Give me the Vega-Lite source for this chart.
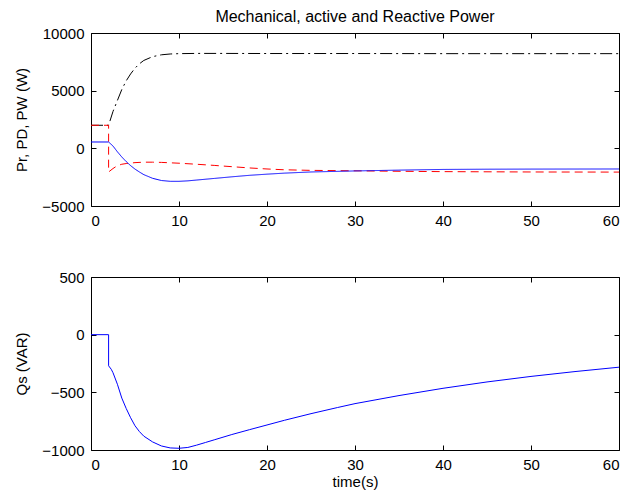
{
  "$schema": "https://vega.github.io/schema/vega-lite/v6.json",
  "padding": {"left": 14, "top": 8, "right": 10, "bottom": 0},
  "spacing": 40,
  "config": {
    "font": "Liberation Sans",
    "view": {"stroke": "black", "strokeWidth": 1},
    "axis": {"domain": false, "grid": false, "ticks": true, "tickSize": -5, "tickColor": "black", "tickWidth": 1,
      "labelFont": "Liberation Sans", "labelFontSize": 15, "labelColor": "black", "labelPadding": 12,
      "titleFont": "Liberation Sans", "titleFontSize": 15, "titleFontWeight": "normal", "titleColor": "black"}
  },
  "datasets": {
    "p": [
      {"s": "W", "i": 0, "t": 0, "v": 2000}, {"s": "W", "i": 1, "t": 2, "v": 2000}, {"s": "W", "i": 2, "t": 2.5, "v": 3200},
      {"s": "W", "i": 3, "t": 3, "v": 4150}, {"s": "W", "i": 4, "t": 3.5, "v": 5100}, {"s": "W", "i": 5, "t": 4, "v": 5850},
      {"s": "W", "i": 6, "t": 4.5, "v": 6450}, {"s": "W", "i": 7, "t": 5, "v": 6950}, {"s": "W", "i": 8, "t": 5.5, "v": 7330},
      {"s": "W", "i": 9, "t": 6, "v": 7620}, {"s": "W", "i": 10, "t": 7, "v": 7950}, {"s": "W", "i": 11, "t": 8, "v": 8110},
      {"s": "W", "i": 12, "t": 9, "v": 8180}, {"s": "W", "i": 13, "t": 10, "v": 8210}, {"s": "W", "i": 14, "t": 12, "v": 8230},
      {"s": "W", "i": 15, "t": 15, "v": 8230}, {"s": "W", "i": 16, "t": 20, "v": 8220}, {"s": "W", "i": 17, "t": 30, "v": 8220},
      {"s": "W", "i": 18, "t": 40, "v": 8210}, {"s": "W", "i": 19, "t": 50, "v": 8210}, {"s": "W", "i": 20, "t": 60, "v": 8210},
      {"s": "D", "i": 0, "t": 0, "v": 2000}, {"s": "D", "i": 1, "t": 2, "v": 2000}, {"s": "D", "i": 2, "t": 2, "v": -2050},
      {"s": "D", "i": 3, "t": 2.5, "v": -1750}, {"s": "D", "i": 4, "t": 3, "v": -1500}, {"s": "D", "i": 5, "t": 3.5, "v": -1380},
      {"s": "D", "i": 6, "t": 4, "v": -1320}, {"s": "D", "i": 7, "t": 5, "v": -1240}, {"s": "D", "i": 8, "t": 6, "v": -1200},
      {"s": "D", "i": 9, "t": 7, "v": -1200}, {"s": "D", "i": 10, "t": 8, "v": -1220}, {"s": "D", "i": 11, "t": 10, "v": -1290},
      {"s": "D", "i": 12, "t": 12, "v": -1380}, {"s": "D", "i": 13, "t": 14, "v": -1480}, {"s": "D", "i": 14, "t": 16, "v": -1590},
      {"s": "D", "i": 15, "t": 18, "v": -1700}, {"s": "D", "i": 16, "t": 20, "v": -1790}, {"s": "D", "i": 17, "t": 22, "v": -1860},
      {"s": "D", "i": 18, "t": 25, "v": -1910}, {"s": "D", "i": 19, "t": 30, "v": -1950}, {"s": "D", "i": 20, "t": 35, "v": -1990},
      {"s": "D", "i": 21, "t": 40, "v": -2020}, {"s": "D", "i": 22, "t": 50, "v": -2050}, {"s": "D", "i": 23, "t": 60, "v": -2060},
      {"s": "r", "i": 0, "t": 0, "v": 550}, {"s": "r", "i": 1, "t": 2, "v": 550}, {"s": "r", "i": 2, "t": 2.5, "v": 200},
      {"s": "r", "i": 3, "t": 3, "v": -300}, {"s": "r", "i": 4, "t": 3.5, "v": -750}, {"s": "r", "i": 5, "t": 4, "v": -1150},
      {"s": "r", "i": 6, "t": 4.5, "v": -1500}, {"s": "r", "i": 7, "t": 5, "v": -1800}, {"s": "r", "i": 8, "t": 5.5, "v": -2050},
      {"s": "r", "i": 9, "t": 6, "v": -2280}, {"s": "r", "i": 10, "t": 7, "v": -2600}, {"s": "r", "i": 11, "t": 8, "v": -2790},
      {"s": "r", "i": 12, "t": 9, "v": -2860}, {"s": "r", "i": 13, "t": 10, "v": -2860}, {"s": "r", "i": 14, "t": 11, "v": -2820},
      {"s": "r", "i": 15, "t": 12, "v": -2750}, {"s": "r", "i": 16, "t": 14, "v": -2610}, {"s": "r", "i": 17, "t": 16, "v": -2470},
      {"s": "r", "i": 18, "t": 18, "v": -2340}, {"s": "r", "i": 19, "t": 20, "v": -2240}, {"s": "r", "i": 20, "t": 22, "v": -2150},
      {"s": "r", "i": 21, "t": 25, "v": -2050}, {"s": "r", "i": 22, "t": 30, "v": -1960}, {"s": "r", "i": 23, "t": 35, "v": -1890},
      {"s": "r", "i": 24, "t": 40, "v": -1830}, {"s": "r", "i": 25, "t": 45, "v": -1810}, {"s": "r", "i": 26, "t": 50, "v": -1800},
      {"s": "r", "i": 27, "t": 55, "v": -1795}, {"s": "r", "i": 28, "t": 60, "v": -1790}
    ],
    "q": [
      {"i": 0, "t": 0, "v": 0}, {"i": 1, "t": 2, "v": 0}, {"i": 2, "t": 2, "v": -270}, {"i": 3, "t": 2.3, "v": -300},
      {"i": 4, "t": 2.5, "v": -330}, {"i": 5, "t": 3, "v": -430}, {"i": 6, "t": 3.5, "v": -550}, {"i": 7, "t": 4, "v": -640},
      {"i": 8, "t": 4.5, "v": -720}, {"i": 9, "t": 5, "v": -790}, {"i": 10, "t": 5.5, "v": -840}, {"i": 11, "t": 6, "v": -880},
      {"i": 12, "t": 7, "v": -930}, {"i": 13, "t": 8, "v": -965}, {"i": 14, "t": 9, "v": -982}, {"i": 15, "t": 10, "v": -985},
      {"i": 16, "t": 11, "v": -978}, {"i": 17, "t": 12, "v": -958}, {"i": 18, "t": 13, "v": -935}, {"i": 19, "t": 14, "v": -912},
      {"i": 20, "t": 16, "v": -866}, {"i": 21, "t": 18, "v": -824}, {"i": 22, "t": 20, "v": -783}, {"i": 23, "t": 22, "v": -742},
      {"i": 24, "t": 25, "v": -685}, {"i": 25, "t": 28, "v": -632}, {"i": 26, "t": 30, "v": -598}, {"i": 27, "t": 35, "v": -528},
      {"i": 28, "t": 40, "v": -465}, {"i": 29, "t": 45, "v": -410}, {"i": 30, "t": 50, "v": -362}, {"i": 31, "t": 55, "v": -320},
      {"i": 32, "t": 60, "v": -282}
    ]
  },
  "vconcat": [
    {
      "width": 528, "height": 173,
      "title": {"text": "Mechanical, active and Reactive Power", "font": "Liberation Sans", "fontSize": 16, "fontWeight": "normal", "color": "black", "anchor": "middle", "frame": "group", "offset": 1},
      "data": {"name": "p"},
      "layer": [
        {
          "mark": {"type": "line", "strokeWidth": 1, "clip": true},
          "encoding": {
            "x": {"field": "t", "type": "quantitative", "scale": {"domain": [0, 60], "nice": false, "zero": false},
              "axis": {"values": [0, 10, 20, 30, 40, 50, 60], "title": null}},
            "y": {"field": "v", "type": "quantitative", "scale": {"domain": [-5000, 10000], "nice": false, "zero": false},
              "axis": {"values": [-5000, 0, 5000, 10000], "format": "d", "title": "Pr, PD, PW (W)", "titlePadding": 12}},
            "color": {"field": "s", "type": "nominal", "scale": {"domain": ["W", "D", "r"], "range": ["#000000", "#ff0000", "#0000ff"]}, "legend": null},
            "strokeDash": {"field": "s", "type": "nominal", "scale": {"domain": ["W", "D", "r"], "range": [[12, 4, 2, 4], [8, 5], [1, 0]]}, "legend": null},
            "order": {"field": "i", "type": "quantitative"}
          }
        },
        {
          "mark": {"type": "line", "opacity": 0},
          "encoding": {
            "x": {"field": "t", "type": "quantitative", "axis": {"orient": "top", "values": [0, 10, 20, 30, 40, 50, 60], "labels": false, "title": null}},
            "y": {"field": "v", "type": "quantitative", "axis": {"orient": "right", "values": [-5000, 0, 5000, 10000], "labels": false, "title": null}},
            "detail": {"field": "s"},
            "order": {"field": "i", "type": "quantitative"}
          }
        }
      ],
      "resolve": {"axis": {"x": "independent", "y": "independent"}}
    },
    {
      "width": 528, "height": 173,
      "data": {"name": "q"},
      "layer": [
        {
          "mark": {"type": "line", "strokeWidth": 1, "color": "#0000ff", "clip": true},
          "encoding": {
            "x": {"field": "t", "type": "quantitative", "scale": {"domain": [0, 60], "nice": false, "zero": false},
              "axis": {"values": [0, 10, 20, 30, 40, 50, 60], "title": "time(s)", "titlePadding": 2}},
            "y": {"field": "v", "type": "quantitative", "scale": {"domain": [-1000, 500], "nice": false, "zero": false},
              "axis": {"values": [-1000, -500, 0, 500], "format": "d", "title": "Qs (VAR)", "titlePadding": 12}},
            "order": {"field": "i", "type": "quantitative"}
          }
        },
        {
          "mark": {"type": "line", "opacity": 0},
          "encoding": {
            "x": {"field": "t", "type": "quantitative", "axis": {"orient": "top", "values": [0, 10, 20, 30, 40, 50, 60], "labels": false, "title": null}},
            "y": {"field": "v", "type": "quantitative", "axis": {"orient": "right", "values": [-1000, -500, 0, 500], "labels": false, "title": null}},
            "order": {"field": "i", "type": "quantitative"}
          }
        }
      ],
      "resolve": {"axis": {"x": "independent", "y": "independent"}}
    }
  ]
}
